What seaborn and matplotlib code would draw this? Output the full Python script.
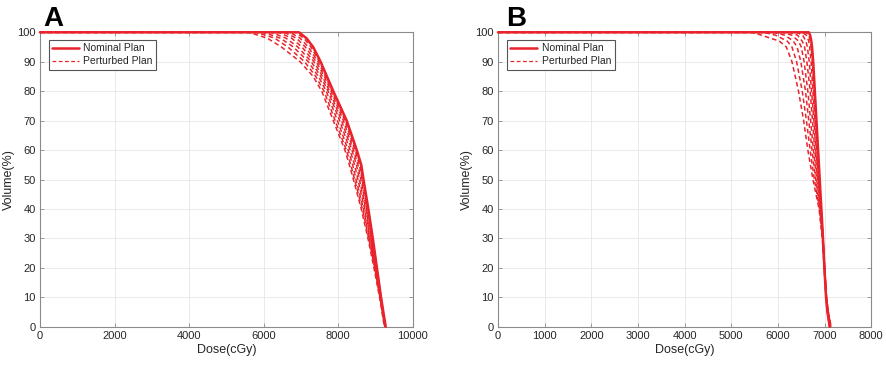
import pandas as pd
import matplotlib
matplotlib.use('Agg')
import matplotlib.pyplot as plt
import seaborn as sns
from matplotlib.lines import Line2D

sns.set_style('ticks')
plt.rcParams['font.family'] = ['Liberation Sans', 'DejaVu Sans']

# 面板A：体积水平(%)及各曲线对应剂量(cGy)
levels_a = [100, 98, 95, 90, 85, 80, 70, 60, 55, 50, 40, 30, 20, 10, 0]
nominal_a = [6950, 7150, 7330, 7530, 7700, 7870, 8230, 8500, 8620, 8680, 8810, 8930, 9040, 9150, 9275]
perturbed_a = [
    [5600, 6100, 6480, 6980, 7330, 7560, 7870, 8180, 8300, 8410, 8620, 8800, 8960, 9110, 9240],
    [5800, 6300, 6650, 7100, 7400, 7620, 7920, 8220, 8340, 8440, 8650, 8820, 8980, 9120, 9250],
    [6000, 6450, 6800, 7200, 7470, 7680, 7980, 8270, 8390, 8480, 8680, 8840, 8990, 9130, 9255],
    [6200, 6600, 6920, 7280, 7530, 7730, 8040, 8320, 8440, 8530, 8710, 8860, 9000, 9140, 9260],
    [6400, 6750, 7030, 7350, 7580, 7770, 8090, 8370, 8490, 8570, 8740, 8880, 9010, 9140, 9260],
    [6550, 6880, 7120, 7410, 7630, 7810, 8140, 8410, 8530, 8610, 8760, 8890, 9020, 9145, 9265],
    [6700, 6980, 7200, 7460, 7660, 7840, 8180, 8450, 8570, 8640, 8780, 8910, 9030, 9150, 9270],
    [6850, 7080, 7270, 7500, 7690, 7860, 8210, 8480, 8600, 8660, 8800, 8920, 9035, 9150, 9270],
]

# 面板B
levels_b = [100, 99, 97, 95, 90, 80, 70, 60, 50, 40, 30, 20, 10, 5, 0]
nominal_b = [6660, 6690, 6715, 6730, 6755, 6790, 6825, 6860, 6895, 6930, 6965, 6995, 7030, 7060, 7110]
perturbed_b = [
    [5450, 5650, 6030, 6180, 6300, 6440, 6550, 6640, 6750, 6880, 6950, 6990, 7030, 7060, 7100],
    [5700, 5950, 6200, 6300, 6400, 6520, 6610, 6690, 6780, 6890, 6955, 6990, 7030, 7065, 7110],
    [5900, 6150, 6330, 6410, 6490, 6590, 6660, 6730, 6810, 6900, 6960, 6995, 7035, 7070, 7120],
    [6100, 6300, 6440, 6500, 6560, 6640, 6700, 6760, 6830, 6910, 6960, 7000, 7040, 7080, 7130],
    [6250, 6420, 6520, 6570, 6620, 6690, 6740, 6790, 6850, 6915, 6965, 7000, 7040, 7080, 7140],
    [6400, 6530, 6600, 6630, 6670, 6720, 6770, 6810, 6865, 6920, 6965, 7000, 7040, 7075, 7130],
    [6520, 6610, 6660, 6680, 6710, 6750, 6790, 6830, 6875, 6925, 6965, 7000, 7035, 7070, 7120],
    [6600, 6660, 6695, 6710, 6735, 6770, 6805, 6845, 6885, 6930, 6965, 6998, 7032, 7065, 7110],
]

red = '#e8232b'
gray = '#262626'

fig = plt.figure(figsize=(8.86, 3.65), dpi=100)
ax_a = fig.add_axes([0.0451, 0.1049, 0.4207, 0.8066])
ax_b = fig.add_axes([0.5621, 0.1049, 0.4213, 0.8066])


def draw_panel(ax, levels, nominal, perturbed, xmax, xstep):
    # 扰动计划（虚线）
    for doses in perturbed:
        df = pd.DataFrame({'Dose': [0] + doses, 'Volume': [100] + levels})
        sns.lineplot(x='Dose', y='Volume', data=df, ax=ax, color=red, lw=1.1,
                     linestyle=(0, (3, 2)), sort=False, estimator=None)
    # 名义计划（实线）
    df = pd.DataFrame({'Dose': [0] + nominal, 'Volume': [100] + levels})
    sns.lineplot(x='Dose', y='Volume', data=df, ax=ax, color=red, lw=1.8,
                 sort=False, estimator=None)
    for ln in ax.lines:
        ln.set_clip_on(False)
        ln.set_zorder(3)

    ax.set_xlim(0, xmax)
    ax.set_ylim(0, 100)
    ax.set_xticks(range(0, xmax + 1, xstep))
    ax.set_yticks(range(0, 101, 10))
    ax.grid(True, color='#e6e6e6', lw=0.6)
    ax.set_axisbelow(True)
    for sp in ax.spines.values():
        sp.set_color('#8a8a8a')
        sp.set_linewidth(0.8)
    ax.tick_params(direction='in', top=True, right=True, length=3, width=0.6,
                   colors='#8a8a8a', labelcolor=gray, labelsize=8, pad=3)
    ax.set_xlabel('Dose(cGy)', fontsize=9, color=gray, labelpad=2)
    ax.set_ylabel('Volume(%)', fontsize=9, color=gray, labelpad=2)

    handles = [Line2D([], [], color=red, lw=1.8),
               Line2D([], [], color=red, lw=0.9, linestyle=(0, (3, 2)))]
    leg = ax.legend(handles, ['Nominal Plan', 'Perturbed Plan'], loc='upper left',
                    bbox_to_anchor=(0.023, 0.975), fontsize=7.5, frameon=True,
                    fancybox=False, framealpha=1, borderpad=0.35, handlelength=2.6,
                    handletextpad=0.4, labelspacing=0.3, borderaxespad=0)
    leg.set_zorder(5)
    leg.get_frame().set_edgecolor('#555555')
    leg.get_frame().set_linewidth(0.8)
    for t in leg.get_texts():
        t.set_color(gray)


draw_panel(ax_a, levels_a, nominal_a, perturbed_a, 10000, 2000)
draw_panel(ax_b, levels_b, nominal_b, perturbed_b, 8000, 1000)

fig.text(0.0485, 0.93, 'A', fontsize=20, fontweight='bold', color='black')
fig.text(0.571, 0.93, 'B', fontsize=20, fontweight='bold', color='black')

fig.savefig('out.png', dpi=100)
